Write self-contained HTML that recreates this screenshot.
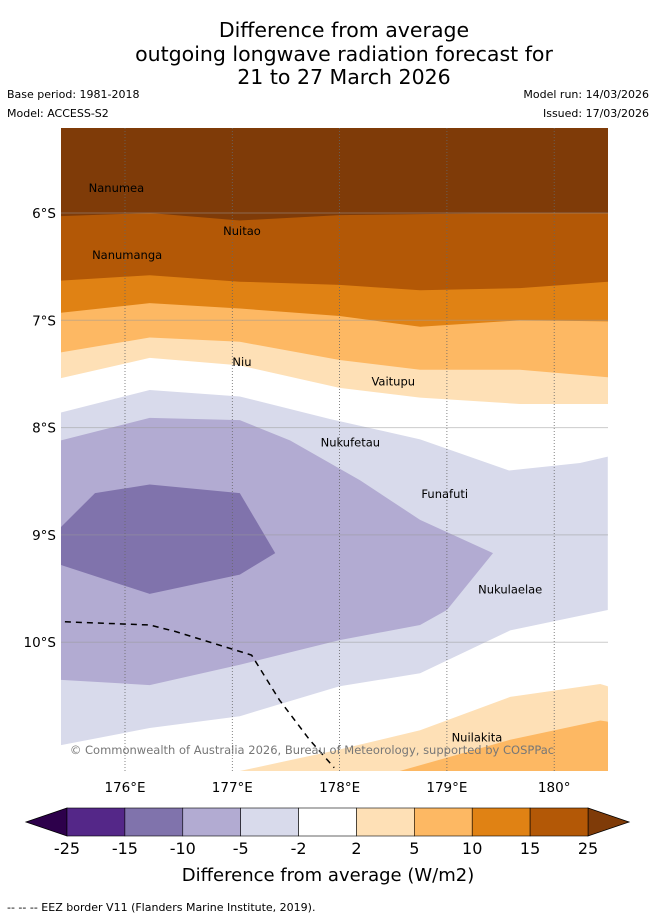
<!DOCTYPE html>
<html><head><meta charset="utf-8"><style>
body{margin:0;background:#fff;font-family:"DejaVu Sans","Liberation Sans",sans-serif;}
</style></head><body>
<svg id="chart" width="655" height="919" viewBox="0 0 655 919" xmlns="http://www.w3.org/2000/svg" font-family="'DejaVu Sans','Liberation Sans',sans-serif">
<g text-anchor="middle" font-size="20.5" fill="#000">
<text x="344" y="37">Difference from average</text>
<text x="344" y="61">outgoing longwave radiation forecast for</text>
<text x="344" y="84">21 to 27 March 2026</text>
</g>
<g font-size="11" fill="#000">
<text x="7" y="98">Base period: 1981-2018</text>
<text x="7" y="117">Model: ACCESS-S2</text>
<text x="649" y="98" text-anchor="end">Model run: 14/03/2026</text>
<text x="649" y="117" text-anchor="end">Issued: 17/03/2026</text>
</g>
<defs><clipPath id="mapclip"><rect x="61" y="128" width="547" height="643"/></clipPath></defs>
<g id="map" clip-path="url(#mapclip)"></g>
<g id="overlay"></g>
<g id="cbar"></g>
<text x="328" y="881" text-anchor="middle" font-size="18">Difference from average (W/m2)</text>
<text x="7" y="911" font-size="11">--  --  -- EEZ border V11 (Flanders Marine Institute, 2019).</text>
</svg>
<script>
// axis data
const lonTicks=[176,177,178,179,180];
const latTicks=[6,7,8,9,10];
// contour boundaries (lon in °E, lat in °S)
const topLons=[175.40,176.23,177.07,178.00,178.75,179.68,180.50];
const c15Lat=[6.03,6.00,6.07,6.02,6.01,6.00,6.00];
const c10Lat=[6.63,6.58,6.64,6.67,6.72,6.70,6.64];
const c5Lat=[6.93,6.84,6.89,6.96,7.06,7.00,7.01];
const c2Lat=[7.30,7.16,7.20,7.37,7.46,7.46,7.53];
const c0Lat=[7.54,7.35,7.42,7.63,7.72,7.78,7.78];
const neg2Lon=[175.40,176.23,177.07,177.91,178.75,179.58,180.24,180.50,180.50,179.59,178.75,178.00,177.07,176.23,175.40];
const neg2Lat=[7.86,7.65,7.71,7.92,8.11,8.40,8.33,8.27,9.70,9.89,10.29,10.41,10.69,10.80,10.96];
const neg5Lon=[175.40,176.23,177.07,177.54,178.19,178.75,179.43,179.00,178.75,178.00,177.07,176.23,175.40];
const neg5Lat=[8.12,7.91,7.93,8.12,8.49,8.86,9.17,9.70,9.84,9.98,10.21,10.40,10.35];
const neg10Lon=[175.40,175.72,176.23,177.07,177.40,177.07,176.23,175.40];
const neg10Lat=[8.93,8.61,8.53,8.61,9.17,9.37,9.55,9.28];
const pos2bLon=[177.07,178.00,178.75,179.59,180.43,180.50];
const pos2bLat=[11.20,11.00,10.82,10.51,10.39,10.41];
const pos5bLon=[178.56,179.59,180.43,180.50];
const pos5bLat=[11.20,10.91,10.73,10.74];
const eezLon=[175.44,176.23,176.47,177.18,177.44,177.72,177.95];
const eezLat=[9.81,9.84,9.90,10.12,10.54,10.91,11.17];
const islandNames=["Nanumea","Nuitao","Nanumanga","Niu","Vaitupu","Nukufetau","Funafuti","Nukulaelae","Nuilakita"];
const islandLon=[175.92,177.09,176.02,177.09,178.50,178.10,178.98,179.59,179.28];
const islandLat=[5.76,6.16,6.38,7.38,7.56,8.13,8.61,9.50,10.88];
const cbLevels=["-25","-15","-10","-5","-2","2","5","10","15","25"];
const cbColors=["#542788","#8073ac","#b2abd2","#d8daeb","#ffffff","#fee0b6","#fdb863","#e08214","#b35806"];

const NS="http://www.w3.org/2000/svg";
const X=lon=>125+(lon-176)*107.3;
const Y=lat=>213+(lat-6)*107.3;
const map=document.getElementById('map'), ov=document.getElementById('overlay'), cb=document.getElementById('cbar');
function mk(tag,attrs,parent){const e=document.createElementNS(NS,tag);for(const k in attrs)e.setAttribute(k,attrs[k]);parent.appendChild(e);return e;}
function pts(lons,lats){return lons.map((l,i)=>X(l).toFixed(1)+','+Y(lats[i]).toFixed(1)).join(' ');}
function aboveArea(lats,color,name){
  const p=pts(topLons,lats)+' '+X(180.6)+','+Y(lats[lats.length-1])+' '+X(180.6)+','+Y(5)+' '+X(175.3)+','+Y(5)+' '+X(175.3)+','+Y(lats[0]);
  const e=mk('polygon',{points:p,fill:color},map);
  
  
}
mk('rect',{x:61,y:128,width:547,height:643,fill:'#fff'},map);
aboveArea(c0Lat,'#fee0b6','band-2-to-5');
aboveArea(c2Lat,'#fdb863','band-5-to-10');
aboveArea(c5Lat,'#e08214','band-10-to-15');
aboveArea(c10Lat,'#b35806','band-15-to-25');
aboveArea(c15Lat,'#7f3b08','band-above-25');
function poly(lons,lats,color,name,close){
  let p=pts(lons,lats);
  if(close)p+=' '+X(180.6)+','+Y(11.3)+' '+X(lons[0])+','+Y(11.3);
  const e=mk('polygon',{points:p,fill:color},map);
  
  
}
poly(neg2Lon,neg2Lat,'#d8daeb','band-neg2-to-neg5',false);
poly(neg5Lon,neg5Lat,'#b2abd2','band-neg5-to-neg10',false);
poly(neg10Lon,neg10Lat,'#8073ac','band-neg10-to-neg15',false);
poly(pos2bLon,pos2bLat,'#fee0b6','band-south-2-to-5',true);
poly(pos5bLon,pos5bLat,'#fdb863','band-south-5-to-10',true);
// grid
lonTicks.forEach(l=>{
  const g=mk('line',{x1:X(l),x2:X(l),y1:128,y2:771,stroke:'#666','stroke-width':0.8,'stroke-dasharray':'1,2'},map);
  
  
  const t=mk('text',{x:X(l),y:792,'text-anchor':'middle','font-size':13.5},ov);
  t.textContent=l+'°'+(l===180?'':'E');
  
  
});
latTicks.forEach(l=>{
  const g=mk('line',{x1:61,x2:608,y1:Y(l),y2:Y(l),stroke:'#999','stroke-width':1,'stroke-opacity':0.5},map);
  
  
  const t=mk('text',{x:56,y:Y(l)+5,'text-anchor':'end','font-size':13.5},ov);
  t.textContent=l+'°S';
  
  
});
const eez=mk('polyline',{points:pts(eezLon,eezLat),fill:'none',stroke:'#000','stroke-width':1.5,'stroke-dasharray':'6,5'},map);


islandNames.forEach((n,i)=>{
  const t=mk('text',{x:X(islandLon[i]),y:Y(islandLat[i])+5,'text-anchor':'middle','font-size':11.5},map);
  t.textContent=n;
  
  
});
const cr=mk('text',{x:312,y:754,'text-anchor':'middle','font-size':11.5,fill:'#777'},map);
cr.textContent='© Commonwealth of Australia 2026, Bureau of Meteorology, supported by COSPPac';


// colorbar
const cbX=67, cbW=521, cbY=808, cbH=28, seg=cbW/cbColors.length;
const l=mk('polygon',{points:`${cbX},${cbY} ${26},${cbY+cbH/2} ${cbX},${cbY+cbH}`,fill:'#2d004b',stroke:'#000','stroke-width':0.8},cb);


const r=mk('polygon',{points:`${cbX+cbW},${cbY} ${629},${cbY+cbH/2} ${cbX+cbW},${cbY+cbH}`,fill:'#7f3b08',stroke:'#000','stroke-width':0.8},cb);


cbColors.forEach((c,i)=>{
  const s=mk('rect',{x:cbX+i*seg,y:cbY,width:seg,height:cbH,fill:c,stroke:'#000','stroke-width':0.6},cb);
  
  
});
cbLevels.forEach((v,i)=>{
  const t=mk('text',{x:cbX+i*seg,y:854,'text-anchor':'middle','font-size':16},cb);
  t.textContent=v;
  
  
});
</script>
</body></html>
